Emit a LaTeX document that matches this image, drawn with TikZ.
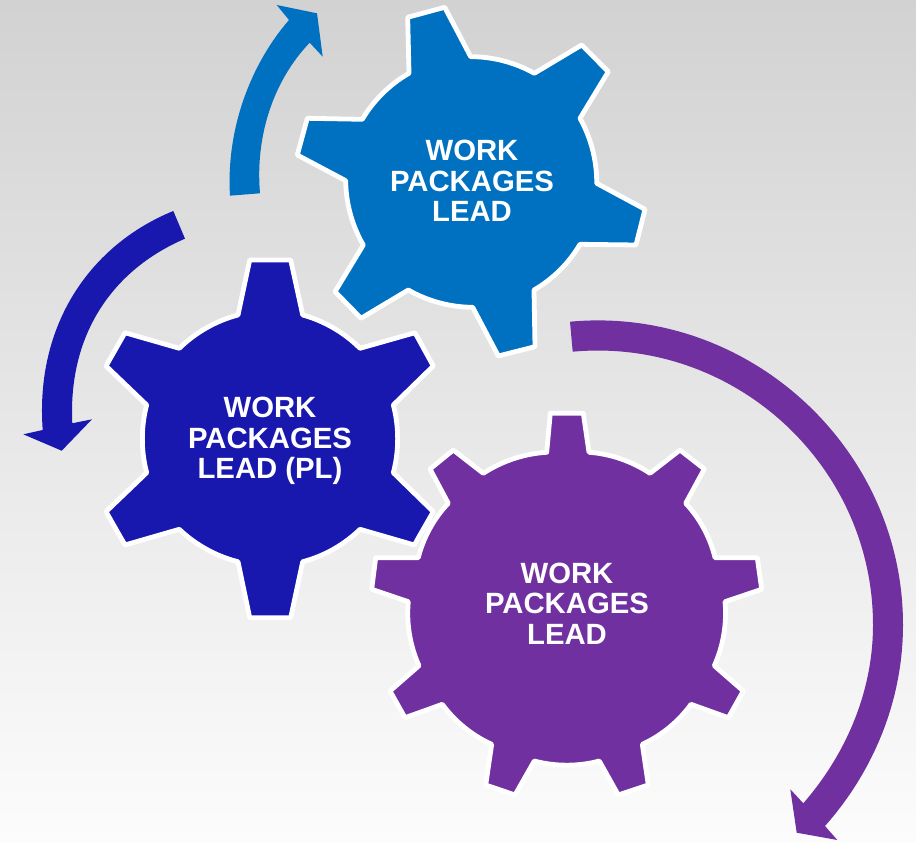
\documentclass[tikz,border=0pt]{standalone}
\usepackage{fontspec}
\setmainfont{Liberation Sans}
\definecolor{gearblue}{HTML}{0070C0}
\definecolor{gearnavy}{HTML}{1818AE}
\definecolor{gearpurple}{HTML}{7030A0}
\definecolor{bgtop}{HTML}{D2D2D2}
\definecolor{bgmid}{HTML}{F0F0F0}
\definecolor{bgbot}{HTML}{FCFCFC}
\tikzset{
  gearshape/.style={draw=white,line width=4.8pt,line join=round},
  gearlabel/.style={text=white,align=center,inner sep=0pt,font=\fontsize{29.3}{30.3}\selectfont\bfseries},
  rim/.style={bend left=15,looseness=.85},
}
\begin{document}
\begin{tikzpicture}[x=1pt,y=-1pt]
\useasboundingbox (0,0) rectangle (916,842);
\shade[top color=bgtop,middle color=bgmid,bottom color=bgbot] (0,0) rectangle (916,842);

% block arrows
\fill[gearblue] (230,195.7) .. controls (226,130) and (250,65) .. (289,20)
  -- (276.7,5) -- (317,13.3) -- (322.7,56.7) -- (309.7,42.7)
  .. controls (274,80) and (255,135) .. (260,193.3) -- cycle;
\fill[gearnavy] (173.3,211) .. controls (90,245) and (35,325) .. (42.7,430)
  -- (23.3,434.3) -- (61.7,450.7) -- (92,419.3) -- (72.3,423.3)
  .. controls (68,335) and (112,270) .. (185,238.7) -- cycle;
\fill[gearpurple] (570,321.7) .. controls (747.5,305.3) and (903,447) .. (903,625)
  .. controls (903,699.4) and (874.3,770.3) .. (825,826)
  -- (837.3,840) -- (796.7,832.7) -- (790.3,789.3) -- (803.3,803.3)
  .. controls (846.5,753.5) and (873,691) .. (873,625)
  .. controls (873,464) and (733,337) .. (572.7,351.7) -- cycle;

% blue gear
\path[gearshape,fill=gearblue] (407.7,17.3) -- (444.7,7.3) -- (470.7,56.7)
  to[rim] (534.3,73.3) -- (581.7,45) -- (608.3,71.7) -- (580,118.3)
  to[rim] (596.7,183.3) -- (645,209.3) -- (636,245) -- (580,244.3)
  to[rim] (534,290) -- (535,346.7) -- (498.3,356) -- (472.7,307.3)
  to[rim] (408.3,290) -- (361,318.3) -- (335,291.7) -- (363.3,245)
  to[rim] (345.7,180.7) -- (297.3,155) -- (307.3,118.3) -- (362.3,119.3)
  to[rim] (409,73.3) -- cycle;
\node[gearlabel] (bluelabel) at (472,181) {WORK\\PACKAGES\\LEAD};

% navy gear
\path[gearshape,fill=gearnavy] (249.7,260) -- (290.7,260) -- (302.7,315)
  to[rim] (360,348.3) -- (415,332.7) -- (433.3,366) -- (393.3,405)
  to[rim] (393.3,472.7) -- (433.3,511.7) -- (414.3,545) -- (360,529.3)
  to[rim] (302.7,561.7) -- (290.7,617.7) -- (249.7,617.7) -- (238,561.7)
  to[rim] (179.3,529.3) -- (125,545) -- (106,511.7) -- (146.7,472.7)
  to[rim] (146.7,405) -- (106,366) -- (125,332.7) -- (179.3,348.3)
  to[rim] (238,315) -- cycle;
\node[gearlabel] (navylabel) at (270,441) {WORK\\PACKAGES\\LEAD (PL)};

% purple gear
\path[gearshape,fill=gearpurple] (550.3,413.3) -- (583.3,413.3) -- (589,452.3)
  to[rim] (650,473.3) -- (680,450) -- (704.3,469) -- (685.7,503.3)
  to[rim] (715,557.7) -- (757.3,557.7) -- (761.7,589.3) -- (725,601.7)
  to[rim] (714.3,665.7) -- (743.3,691) -- (728.3,717.7) -- (691,704.3)
  to[rim] (642.3,744.3) -- (648.3,785) -- (618.3,795) -- (599.3,761)
  to[rim] (534.3,761) -- (515,795) -- (485.7,785) -- (491.7,744.3)
  to[rim] (442.3,704.3) -- (405,717.7) -- (390,691) -- (419,665.7)
  to[rim] (408.3,601.7) -- (371.7,589.3) -- (375.7,557.7) -- (418.3,557.7)
  to[rim] (448.3,503.3) -- (430,469) -- (453.3,450) -- (483.3,473.3)
  to[rim] (546.7,452.3) -- cycle;
\node[gearlabel] (purplelabel) at (567,603.5) {WORK\\PACKAGES\\LEAD};
\end{tikzpicture}
\end{document}
